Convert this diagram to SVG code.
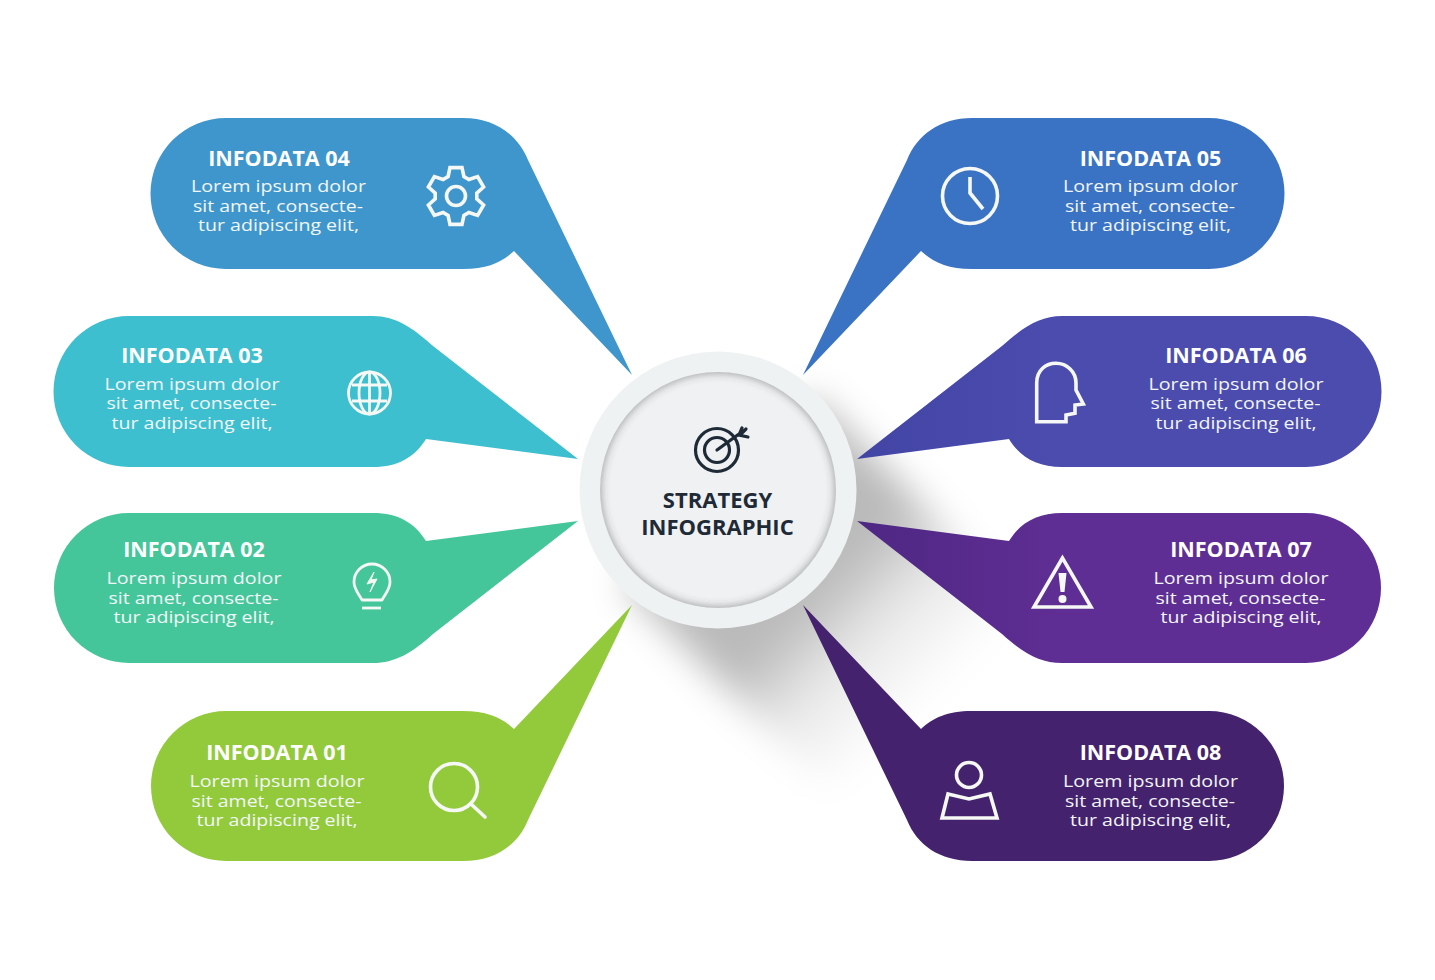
<svg xmlns="http://www.w3.org/2000/svg" width="1435" height="980" viewBox="0 0 1435 980">
<style>
.t{font-family:"Open Sans","Liberation Sans",sans-serif;font-size:21.5px;font-weight:700;fill:#fff;text-anchor:middle}
.b{font-family:"Open Sans","Liberation Sans",sans-serif;font-size:16.8px;fill:#f2f6f8;text-anchor:middle}
.c{font-family:"Open Sans","Liberation Sans",sans-serif;font-size:22px;font-weight:700;fill:#1f2a37;text-anchor:middle}
.i{fill:none;stroke:#f5f8f4;stroke-width:3.6;stroke-linejoin:miter}
.d{fill:none;stroke:#1f2a37;stroke-width:3.2;stroke-linecap:round}
</style>
<defs>
<filter id="blur1" x="-30%" y="-30%" width="160%" height="160%"><feGaussianBlur stdDeviation="18"/></filter>
<filter id="blur2" x="-20%" y="-20%" width="140%" height="140%"><feGaussianBlur stdDeviation="4.500"/></filter>
<linearGradient id="sh" gradientUnits="userSpaceOnUse" x1="718" y1="490" x2="930" y2="702"><stop offset=".46" stop-color="#000" stop-opacity=".27"/><stop offset=".7" stop-color="#000" stop-opacity=".09"/><stop offset="1" stop-color="#000" stop-opacity="0"/></linearGradient>
<linearGradient id="g6" gradientUnits="userSpaceOnUse" x1="857" y1="0" x2="1060" y2="0"><stop offset="0" stop-color="#4345a5"/><stop offset="1" stop-color="#4b4cae"/></linearGradient>
<linearGradient id="g7" gradientUnits="userSpaceOnUse" x1="857" y1="0" x2="1060" y2="0"><stop offset="0" stop-color="#4e2783"/><stop offset="1" stop-color="#5f2e94"/></linearGradient>
<clipPath id="innerClip"><circle cx="718" cy="490" r="118"/></clipPath>
</defs>
<rect width="1435" height="980" fill="#fff"/>

<g id="shadow">
<path d="M813 395L1025 607L835 797L623 585Z" fill="url(#sh)" filter="url(#blur1)"/>
</g>

<g id="node-04">
<path d="M226 118H463C495 118 518 135 528 160L632 375L514 251C502 262 488 269 463 269H226A75.500 75.500 0 0 1 226 118Z" fill="#3f96cc"/>
<text class="t" x="279" y="166">INFODATA 04</text>
<text class="b" x="278.500" y="192" textLength="175" lengthAdjust="spacingAndGlyphs">Lorem ipsum dolor</text><text class="b" x="278" y="212" textLength="170" lengthAdjust="spacingAndGlyphs">sit amet, consecte-</text><text class="b" x="278.500" y="231" textLength="161" lengthAdjust="spacingAndGlyphs">tur adipiscing elit,</text>
<g class="i"><path d="M448.100 176.500L450 167.600H462L463.900 176.500L468.900 179.500L477.600 176.600L483.600 187L476.800 193.100V198.900L483.600 205L477.600 215.400L468.900 212.500L463.900 215.500L462 224.400H450L448.100 215.500L443.100 212.500L434.400 215.400L428.400 205L435.200 198.900V193.100L428.400 187L434.400 176.600L443.100 179.500Z"/><circle cx="456" cy="196" r="9.500"/></g>
</g>

<g id="node-03">
<path d="M129 316H373C395 316 412 327 433 346L578 459L426 439C415 457 398 467 373 467H129A75.500 75.500 0 0 1 129 316Z" fill="#3dbfcf"/>
<text class="t" x="192" y="363">INFODATA 03</text>
<text class="b" x="192" y="390" textLength="175" lengthAdjust="spacingAndGlyphs">Lorem ipsum dolor</text><text class="b" x="191.500" y="409" textLength="170" lengthAdjust="spacingAndGlyphs">sit amet, consecte-</text><text class="b" x="192" y="429" textLength="161" lengthAdjust="spacingAndGlyphs">tur adipiscing elit,</text>
<g class="i" style="stroke-width:2.8"><circle cx="369.500" cy="393" r="21"/><ellipse cx="369.500" cy="393" rx="10.500" ry="21"/><path d="M369.500 372V414M352 385H387M352 401H387"/></g>
</g>

<g id="node-02">
<path d="M129 513H373C398 513 415 523 426 541L578 521L433 634C412 653 395 663 373 663H129A75 75 0 0 1 129 513Z" fill="#44c69a"/>
<text class="t" x="194" y="557">INFODATA 02</text>
<text class="b" x="194" y="584" textLength="175" lengthAdjust="spacingAndGlyphs">Lorem ipsum dolor</text><text class="b" x="193.500" y="604" textLength="170" lengthAdjust="spacingAndGlyphs">sit amet, consecte-</text><text class="b" x="194" y="623" textLength="161" lengthAdjust="spacingAndGlyphs">tur adipiscing elit,</text>
<g class="i" style="stroke-width:2.8"><path d="M362 600C358 593 354 589 354 582A18 18 0 0 1 390 582C390 589 386 593 382 600Z" stroke-linejoin="round"/><path d="M362 608H381"/></g>
<path d="M374 572L367 584L374 582L370 592L377 579L371 580Z" fill="#f5f8f4" stroke="#f5f8f4" stroke-width="1"/>
</g>

<g id="node-01">
<path d="M226 711H463C488 711 502 718 514 729L632 605L528 820C518 845 495 861 463 861H226A75 75 0 0 1 226 711Z" fill="#93ca3c"/>
<text class="t" x="277" y="760">INFODATA 01</text>
<text class="b" x="277" y="787" textLength="175" lengthAdjust="spacingAndGlyphs">Lorem ipsum dolor</text><text class="b" x="276.500" y="807" textLength="170" lengthAdjust="spacingAndGlyphs">sit amet, consecte-</text><text class="b" x="277" y="826" textLength="161" lengthAdjust="spacingAndGlyphs">tur adipiscing elit,</text>
<g class="i"><circle cx="454" cy="787" r="23.500"/><path d="M471 804L485 817" stroke-linecap="round"/></g>
</g>

<g id="node-05">
<path d="M1209 118H972C940 118 917 135 907 160L803 375L921 251C933 262 947 269 972 269H1209A75.500 75.500 0 0 0 1209 118Z" fill="#3b73c4"/>
<text class="t" x="1150.500" y="166">INFODATA 05</text>
<text class="b" x="1150.500" y="192" textLength="175" lengthAdjust="spacingAndGlyphs">Lorem ipsum dolor</text><text class="b" x="1150" y="212" textLength="170" lengthAdjust="spacingAndGlyphs">sit amet, consecte-</text><text class="b" x="1150.500" y="231" textLength="161" lengthAdjust="spacingAndGlyphs">tur adipiscing elit,</text>
<g class="i"><circle cx="970" cy="196" r="27.500"/><path d="M970 177V193L983 209"/></g>
</g>

<g id="node-06">
<path d="M1306 316H1062C1040 316 1023 327 1002 346L857 459L1009 439C1020 457 1037 467 1062 467H1306A75.500 75.500 0 0 0 1306 316Z" fill="url(#g6)"/>
<text class="t" x="1236" y="363">INFODATA 06</text>
<text class="b" x="1236" y="390" textLength="175" lengthAdjust="spacingAndGlyphs">Lorem ipsum dolor</text><text class="b" x="1235.500" y="409" textLength="170" lengthAdjust="spacingAndGlyphs">sit amet, consecte-</text><text class="b" x="1236" y="429" textLength="161" lengthAdjust="spacingAndGlyphs">tur adipiscing elit,</text>
<path class="i" d="M1036.700 421.700V383C1036.700 370 1046 363.300 1056 363.300C1067 363.300 1076 372 1076 383V390L1083.300 404L1075 405V413.300L1066 415V421.700Z"/>
</g>

<g id="node-07">
<path d="M1306 513H1062C1037 513 1020 523 1009 541L857 521L1002 634C1023 653 1040 663 1062 663H1306A75 75 0 0 0 1306 513Z" fill="url(#g7)"/>
<text class="t" x="1241" y="557">INFODATA 07</text>
<text class="b" x="1241" y="584" textLength="175" lengthAdjust="spacingAndGlyphs">Lorem ipsum dolor</text><text class="b" x="1240.500" y="604" textLength="170" lengthAdjust="spacingAndGlyphs">sit amet, consecte-</text><text class="b" x="1241" y="623" textLength="161" lengthAdjust="spacingAndGlyphs">tur adipiscing elit,</text>
<path class="i" d="M1062.500 558L1034 607H1091Z"/>
<path d="M1058.500 573H1066.500L1064.500 592H1060.500Z" fill="#f5f8f4"/><circle cx="1062.500" cy="599" r="4" fill="#f5f8f4"/>
</g>

<g id="node-08">
<path d="M1209 711H972C947 711 933 718 921 729L803 605L907 820C917 845 940 861 972 861H1209A75 75 0 0 0 1209 711Z" fill="#45226d"/>
<text class="t" x="1150.500" y="760">INFODATA 08</text>
<text class="b" x="1150.500" y="787" textLength="175" lengthAdjust="spacingAndGlyphs">Lorem ipsum dolor</text><text class="b" x="1150" y="807" textLength="170" lengthAdjust="spacingAndGlyphs">sit amet, consecte-</text><text class="b" x="1150.500" y="826" textLength="161" lengthAdjust="spacingAndGlyphs">tur adipiscing elit,</text>
<g class="i"><circle cx="969" cy="775" r="12.500"/><path d="M948 794L969 799L990 794L997 818H942Z"/></g>
</g>

<g id="center">
<circle cx="718" cy="490" r="138.500" fill="#eff2f3"/>
<circle cx="718" cy="490" r="118" fill="#eff1f3"/>
<g clip-path="url(#innerClip)"><circle cx="718" cy="490" r="121" fill="none" stroke="#444" stroke-opacity=".55" stroke-width="7" filter="url(#blur2)"/></g>
<g class="d"><circle cx="717" cy="450" r="21.500"/><circle cx="717" cy="450" r="12.500"/><path d="M717 450L739 434M742 428L739 435L748 437M746 429L741 434"/></g>
<text class="c" x="717.500" y="508">STRATEGY</text>
<text class="c" x="717.500" y="535">INFOGRAPHIC</text>
</g>
</svg>
